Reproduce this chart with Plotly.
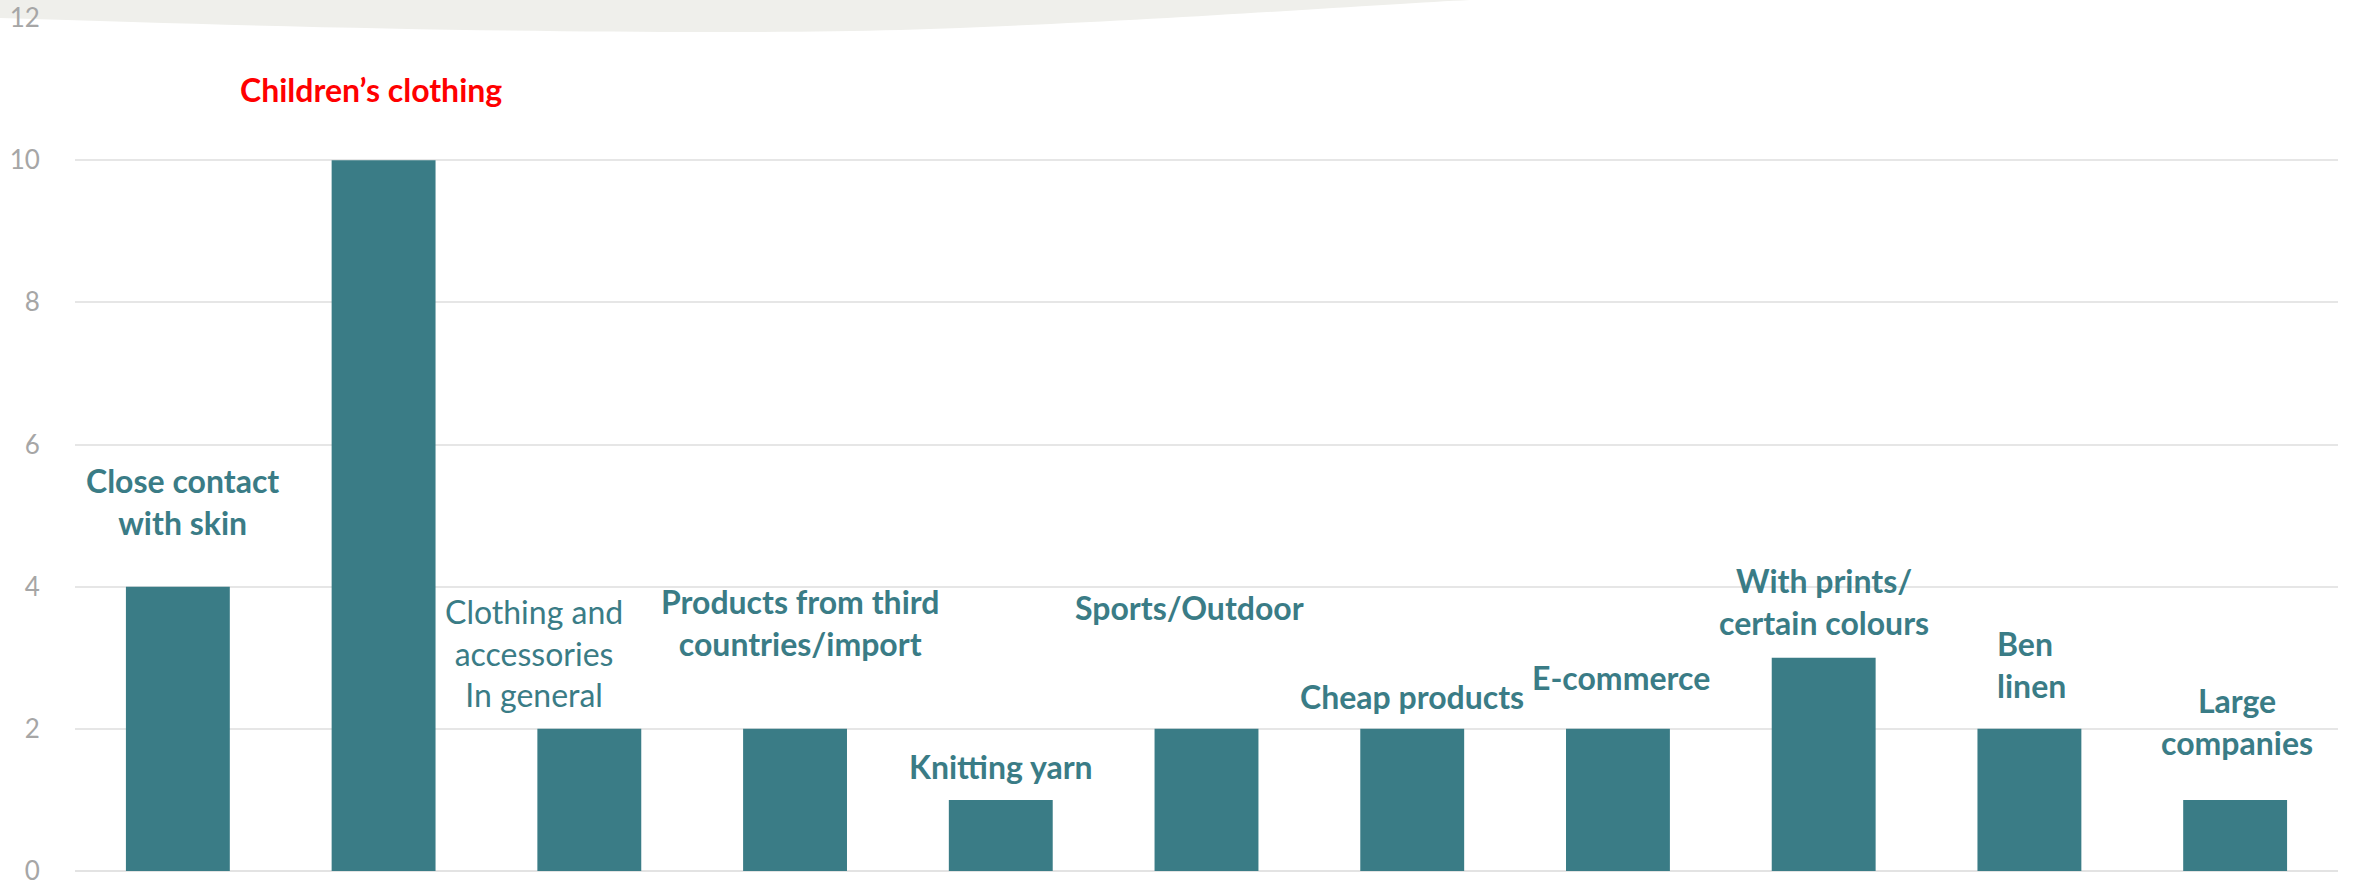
import plotly.graph_objects as go

categories = ["Close contact<br>with skin", "Children’s clothing", "Clothing and<br>accessories<br>In general",
              "Products from third<br>countries/import", "Knitting yarn", "Sports/Outdoor", "Cheap products",
              "E-commerce", "With prints/<br>certain colours", "Ben<br>linen", "Large<br>companies"]
values = [4, 10, 2, 2, 1, 2, 2, 2, 3, 2, 1]
y_ticks = [0, 2, 4, 6, 8, 10, 12]

# label placement (data y of label centre, pixel x shift, weight, colour)
label_y = [5.2, 11.0, 3.06, 3.5, 1.47, 3.7, 2.45, 2.72, 3.79, 2.9, 2.1]
label_dx = [5, -13, -55, 5, 0, -17, 0, 3, 0, -34, 2]
label_bold = [True, True, False, True, True, True, True, True, True, True, True]
label_red = [False, True, False, False, False, False, False, False, False, False, False]

TEAL = "#3A7C86"
idx = list(range(len(categories)))

fig = go.Figure()
fig.add_trace(go.Bar(x=idx, y=values, marker=dict(color=TEAL, line=dict(width=0)),
                     width=0.505, hoverinfo="skip"))

W, H = 2354, 884
L, R, T, B = 75, 16, 18, 13
pw, ph = W - L - R, H - T - B

def px(x, y):
    return (x - L) / pw, (H - B - y) / ph

# light grey swoosh at the top
path = "M %.5f,%.5f L %.5f,%.5f L %.5f,%.5f" % (px(-10, -10) + px(1475, -10) + px(1470, 0))
path += " C %.5f,%.5f %.5f,%.5f %.5f,%.5f" % (px(1380, 4) + px(1150, 22) + px(900, 30))
path += " C %.5f,%.5f %.5f,%.5f %.5f,%.5f" % (px(700, 35) + px(400, 31) + px(0, 18))
path += " L %.5f,%.5f Z" % px(-10, 18)
fig.add_shape(type="path", path=path, xref="paper", yref="paper", fillcolor="#EFEFEB",
              line=dict(width=0), layer="below")

for i, t in enumerate(categories):
    txt = "<b>%s</b>" % t if label_bold[i] else t
    is_left = (i == 9)
    fig.add_annotation(x=i, y=label_y[i], text=txt, showarrow=False, xshift=label_dx[i],
                       xanchor="left" if is_left else "center", yanchor="middle",
                       align="left" if is_left else "center",
                       font=dict(family="Lato", size=32, color="#FF0000" if label_red[i] else TEAL))

fig.update_layout(
    width=W, height=H, margin=dict(l=L, r=R, t=T, b=B, autoexpand=False),
    paper_bgcolor="white", plot_bgcolor="rgba(0,0,0,0)", showlegend=False,
    xaxis=dict(range=[-0.5, len(categories) - 0.5], showticklabels=False, showgrid=False,
               zeroline=False, showline=False, fixedrange=True, automargin=False),
    yaxis=dict(range=[0, 12], tickvals=y_ticks, showgrid=True, gridcolor="#E6E6E6", gridwidth=2,
               zeroline=True, zerolinecolor="#E3E3E3", zerolinewidth=2, showline=False,
               ticks="outside", ticklen=29, tickcolor="rgba(0,0,0,0)", automargin=False,
               ticklabeloverflow="allow",
               tickfont=dict(family="Lato", size=26, color="#A6A6A6")),
)

fig.write_html("out.html", config={"displayModeBar": False},
               post_script="document.body.style.margin='0';document.body.style.overflow='hidden';")
